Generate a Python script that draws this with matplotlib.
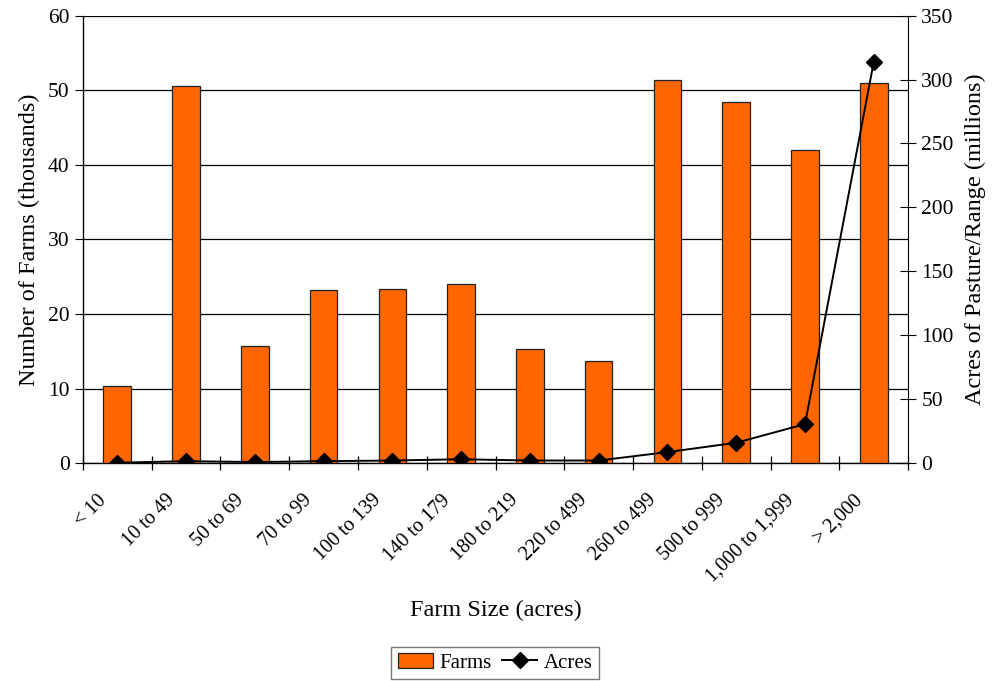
"""Farm counts and pasture/range acreage by farm size class."""

import matplotlib
matplotlib.use("Agg")
import matplotlib.pyplot as plt
import numpy as np

size_classes = ["< 10", "10 to 49", "50 to 69", "70 to 99", "100 to 139",
                "140 to 179", "180 to 219", "220 to 499", "260 to 499",
                "500 to 999", "1,000 to 1,999", "> 2,000"]
farms_thousands = [10.3, 50.6, 15.7, 23.2, 23.4, 24.0, 15.3, 13.7, 51.4, 48.4, 42.0, 51.0]
acres_millions = [0.3, 1.5, 0.8, 1.5, 2.0, 3.0, 2.0, 2.0, 8.6, 15.9, 30.5, 314.0]

plt.rcParams["font.family"] = ["Liberation Serif", "DejaVu Serif"]

fig = plt.figure(figsize=(9.98, 6.81), dpi=100)
ax = fig.add_axes([0.083, 0.320, 0.827, 0.657])
x = np.arange(len(size_classes))

bars = ax.bar(x, farms_thousands, width=0.4, color="#FF6600",
              edgecolor="#222222", linewidth=0.9, zorder=3, label="Farms")
ax.set_xlim(-0.5, len(size_classes) - 0.5)
ax.set_ylim(0, 60)
ax.set_yticks(range(0, 61, 10))
ax.yaxis.grid(True, color="black", linewidth=0.9, zorder=0)
ax.set_axisbelow(True)
for side in ("top", "right"):
    ax.spines[side].set_visible(False)
ax.spines["left"].set_linewidth(1.0)
ax.spines["bottom"].set_linewidth(1.0)

# ticks sit on category boundaries; the rotated labels end just left of each bar
ax.set_xticks(np.arange(-0.5, len(size_classes)), minor=False)
ax.set_xticklabels([])
ax.set_xticks(x - 0.3, minor=True)
ax.set_xticklabels(size_classes, minor=True, rotation=45, ha="right",
                   rotation_mode="anchor", fontsize=14.5)
ax.tick_params(axis="x", which="major", direction="inout", length=10, width=0.9)
ax.tick_params(axis="x", which="minor", length=0, pad=20)
ax.tick_params(axis="y", direction="out", length=6, labelsize=15.5)
ax.set_ylabel("Number of Farms (thousands)", fontsize=17.5, labelpad=6)
ax.set_xlabel("Farm Size (acres)", fontsize=17.5, labelpad=10)

ax2 = ax.twinx()
line, = ax2.plot(x, acres_millions, color="black", linewidth=1.4, marker="D",
                 markersize=8.5, zorder=4, label="Acres")
ax2.set_ylim(0, 350)
ax2.set_yticks(range(0, 351, 50))
ax2.tick_params(axis="y", direction="inout", length=12, labelsize=15.5)
for side in ("top", "left", "bottom"):
    ax2.spines[side].set_visible(False)
ax2.set_ylabel("Acres of Pasture/Range (millions)", fontsize=17.5, labelpad=8)

leg = fig.legend([bars, line], ["Farms", "Acres"], loc="lower center",
                 bbox_to_anchor=(0.496, -0.012), ncol=2, fontsize=15,
                 frameon=True, fancybox=False, edgecolor="#555555",
                 handlelength=1.7, columnspacing=0.5, handletextpad=0.3,
                 borderpad=0.3)
leg.get_frame().set_linewidth(1.0)

fig.savefig("out.png", dpi=100)
